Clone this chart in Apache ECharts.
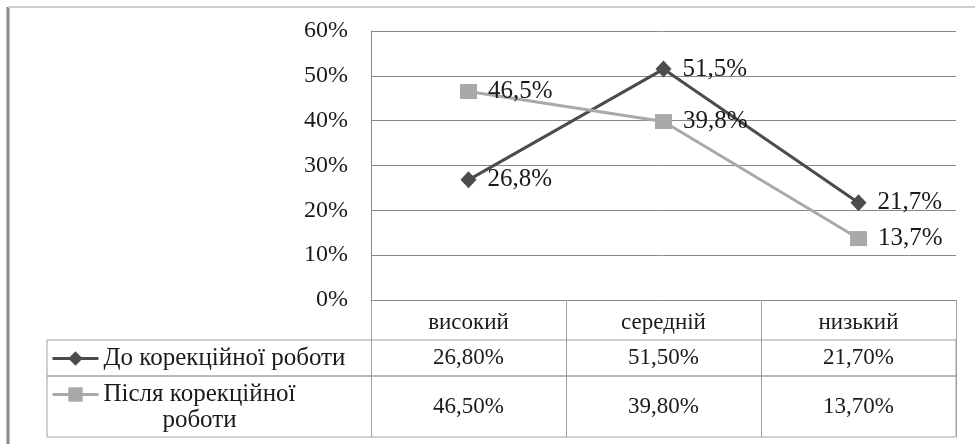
<!DOCTYPE html>
<html><head><meta charset="utf-8">
<script src="https://cdn.jsdelivr.net/npm/echarts@6/dist/echarts.min.js"></script>
<style>html,body{margin:0;padding:0;background:#fff}#c{width:975px;height:444px}</style>
</head><body><div id="c"></div>
<script>
// ---- data ----
const categories = ['високий', 'середній', 'низький'];
const seriesNames = ['До корекційної роботи', 'Після корекційної роботи'];
const beforeValues = [26.8, 51.5, 21.7];
const afterValues = [46.5, 39.8, 13.7];
const yTicks = [0, 10, 20, 30, 40, 50, 60];

// ---- style ----
const FONT = '"Liberation Serif", "Times New Roman", serif';
const TXT = '#1a1a1a';
const DARK = '#4c4c4c';
const LIGHT = '#a9a9a9';
const GRIDC = '#8a8a8a';
const TABC = '#a0a0a0';
const pct1 = v => v.toFixed(1).replace('.', ',') + '%';
const pct2 = v => v.toFixed(2).replace('.', ',') + '%';

const chart = echarts.init(document.getElementById('c'), null, {renderer: 'canvas'});

function rowSeries(idx, vals) {
  return {
    type: 'scatter', name: 'row' + idx, xAxisIndex: 3 + idx, yAxisIndex: 3 + idx,
    silent: true, symbolSize: 1, itemStyle: {color: 'rgba(0,0,0,0)'},
    data: vals.map((v, i) => ({value: [i, 0, v]})),
    label: {show: true, position: 'inside', color: TXT, opacity: 1, textBorderWidth: 0,
      fontFamily: FONT, fontSize: 23, formatter: p => pct2(p.value[2])}
  };
}

const legendBase = {padding: 0, itemGap: 0, itemWidth: 46, itemHeight: 18, selectedMode: false,
  lineStyle: {width: 3}};

const option = {
  backgroundColor: '#fff',
  animation: false,
  grid: [
    {left: 371, right: 19, top: 31, bottom: 144},
    {left: 47, right: 19, top: 340, height: 36, show: true, borderColor: TABC, borderWidth: 1},
    {left: 47, right: 19, top: 376, height: 61, show: true, borderColor: TABC, borderWidth: 1},
    {left: 371, right: 19, top: 340, height: 36},
    {left: 371, right: 19, top: 376, height: 61}
  ],
  xAxis: [
    {gridIndex: 0, type: 'category', data: categories, boundaryGap: true,
      axisLine: {show: true, lineStyle: {color: GRIDC, width: 1}},
      axisTick: {show: true, interval: 0, length: 137, lineStyle: {color: TABC, width: 1}},
      axisLabel: {interval: 0, margin: 11, color: TXT, fontFamily: FONT, fontSize: 23},
      splitLine: {show: false}},
    {gridIndex: 1, type: 'value', show: false},
    {gridIndex: 2, type: 'value', show: false},
    {gridIndex: 3, type: 'category', data: categories, show: false},
    {gridIndex: 4, type: 'category', data: categories, show: false}
  ],
  yAxis: [
    {gridIndex: 0, type: 'value', min: yTicks[0], max: yTicks[yTicks.length - 1], interval: 10,
      axisLine: {show: true, lineStyle: {color: GRIDC, width: 1}},
      axisTick: {show: false},
      axisLabel: {margin: 23, color: TXT, fontFamily: FONT, fontSize: 24, formatter: v => v + '%'},
      splitLine: {show: true, lineStyle: {color: GRIDC, width: 1}}},
    {gridIndex: 1, type: 'value', show: false},
    {gridIndex: 2, type: 'value', show: false},
    {gridIndex: 3, type: 'category', data: ['r'], show: false},
    {gridIndex: 4, type: 'category', data: ['r'], show: false}
  ],
  legend: [
    Object.assign({}, legendBase, {data: [seriesNames[0]], left: 51, top: 346,
      textStyle: {color: TXT, fontFamily: FONT, fontSize: 25}}),
    Object.assign({}, legendBase, {data: [seriesNames[1]], left: 51, top: 382,
      formatter: () => '{a|Після корекційної}\n{b|роботи}',
      textStyle: {color: TXT, fontFamily: FONT, fontSize: 25, padding: [26, 0, 0, 0],
        rich: {a: {fontFamily: FONT, fontSize: 25, color: TXT, lineHeight: 26},
               b: {fontFamily: FONT, fontSize: 25, color: TXT, lineHeight: 26, align: 'center'}}}})
  ],
  graphic: [
    {type: 'line', silent: true, shape: {x1: 8, y1: 7, x2: 8, y2: 444}, style: {stroke: '#8a8a8a', lineWidth: 3}},
    {type: 'line', silent: true, shape: {x1: 8, y1: 7, x2: 975, y2: 7}, style: {stroke: '#cfcfcf', lineWidth: 2}}
  ],
  series: [
    {type: 'line', name: seriesNames[0], data: beforeValues, xAxisIndex: 0, yAxisIndex: 0,
      symbol: 'diamond', symbolSize: [16, 17], showAllSymbol: true,
      lineStyle: {color: DARK, width: 3}, itemStyle: {color: DARK},
      label: {show: true, position: 'right', distance: 11, color: TXT, fontFamily: FONT, fontSize: 25, formatter: p => pct1(p.value)}},
    {type: 'line', name: seriesNames[1], data: afterValues, xAxisIndex: 0, yAxisIndex: 0,
      symbol: 'rect', symbolSize: [17, 15], showAllSymbol: true,
      lineStyle: {color: LIGHT, width: 3}, itemStyle: {color: LIGHT},
      label: {show: true, position: 'right', distance: 11, color: TXT, fontFamily: FONT, fontSize: 25, formatter: p => pct1(p.value)}},
    rowSeries(0, beforeValues),
    rowSeries(1, afterValues)
  ]
};
chart.setOption(option);
</script>
</body></html>
